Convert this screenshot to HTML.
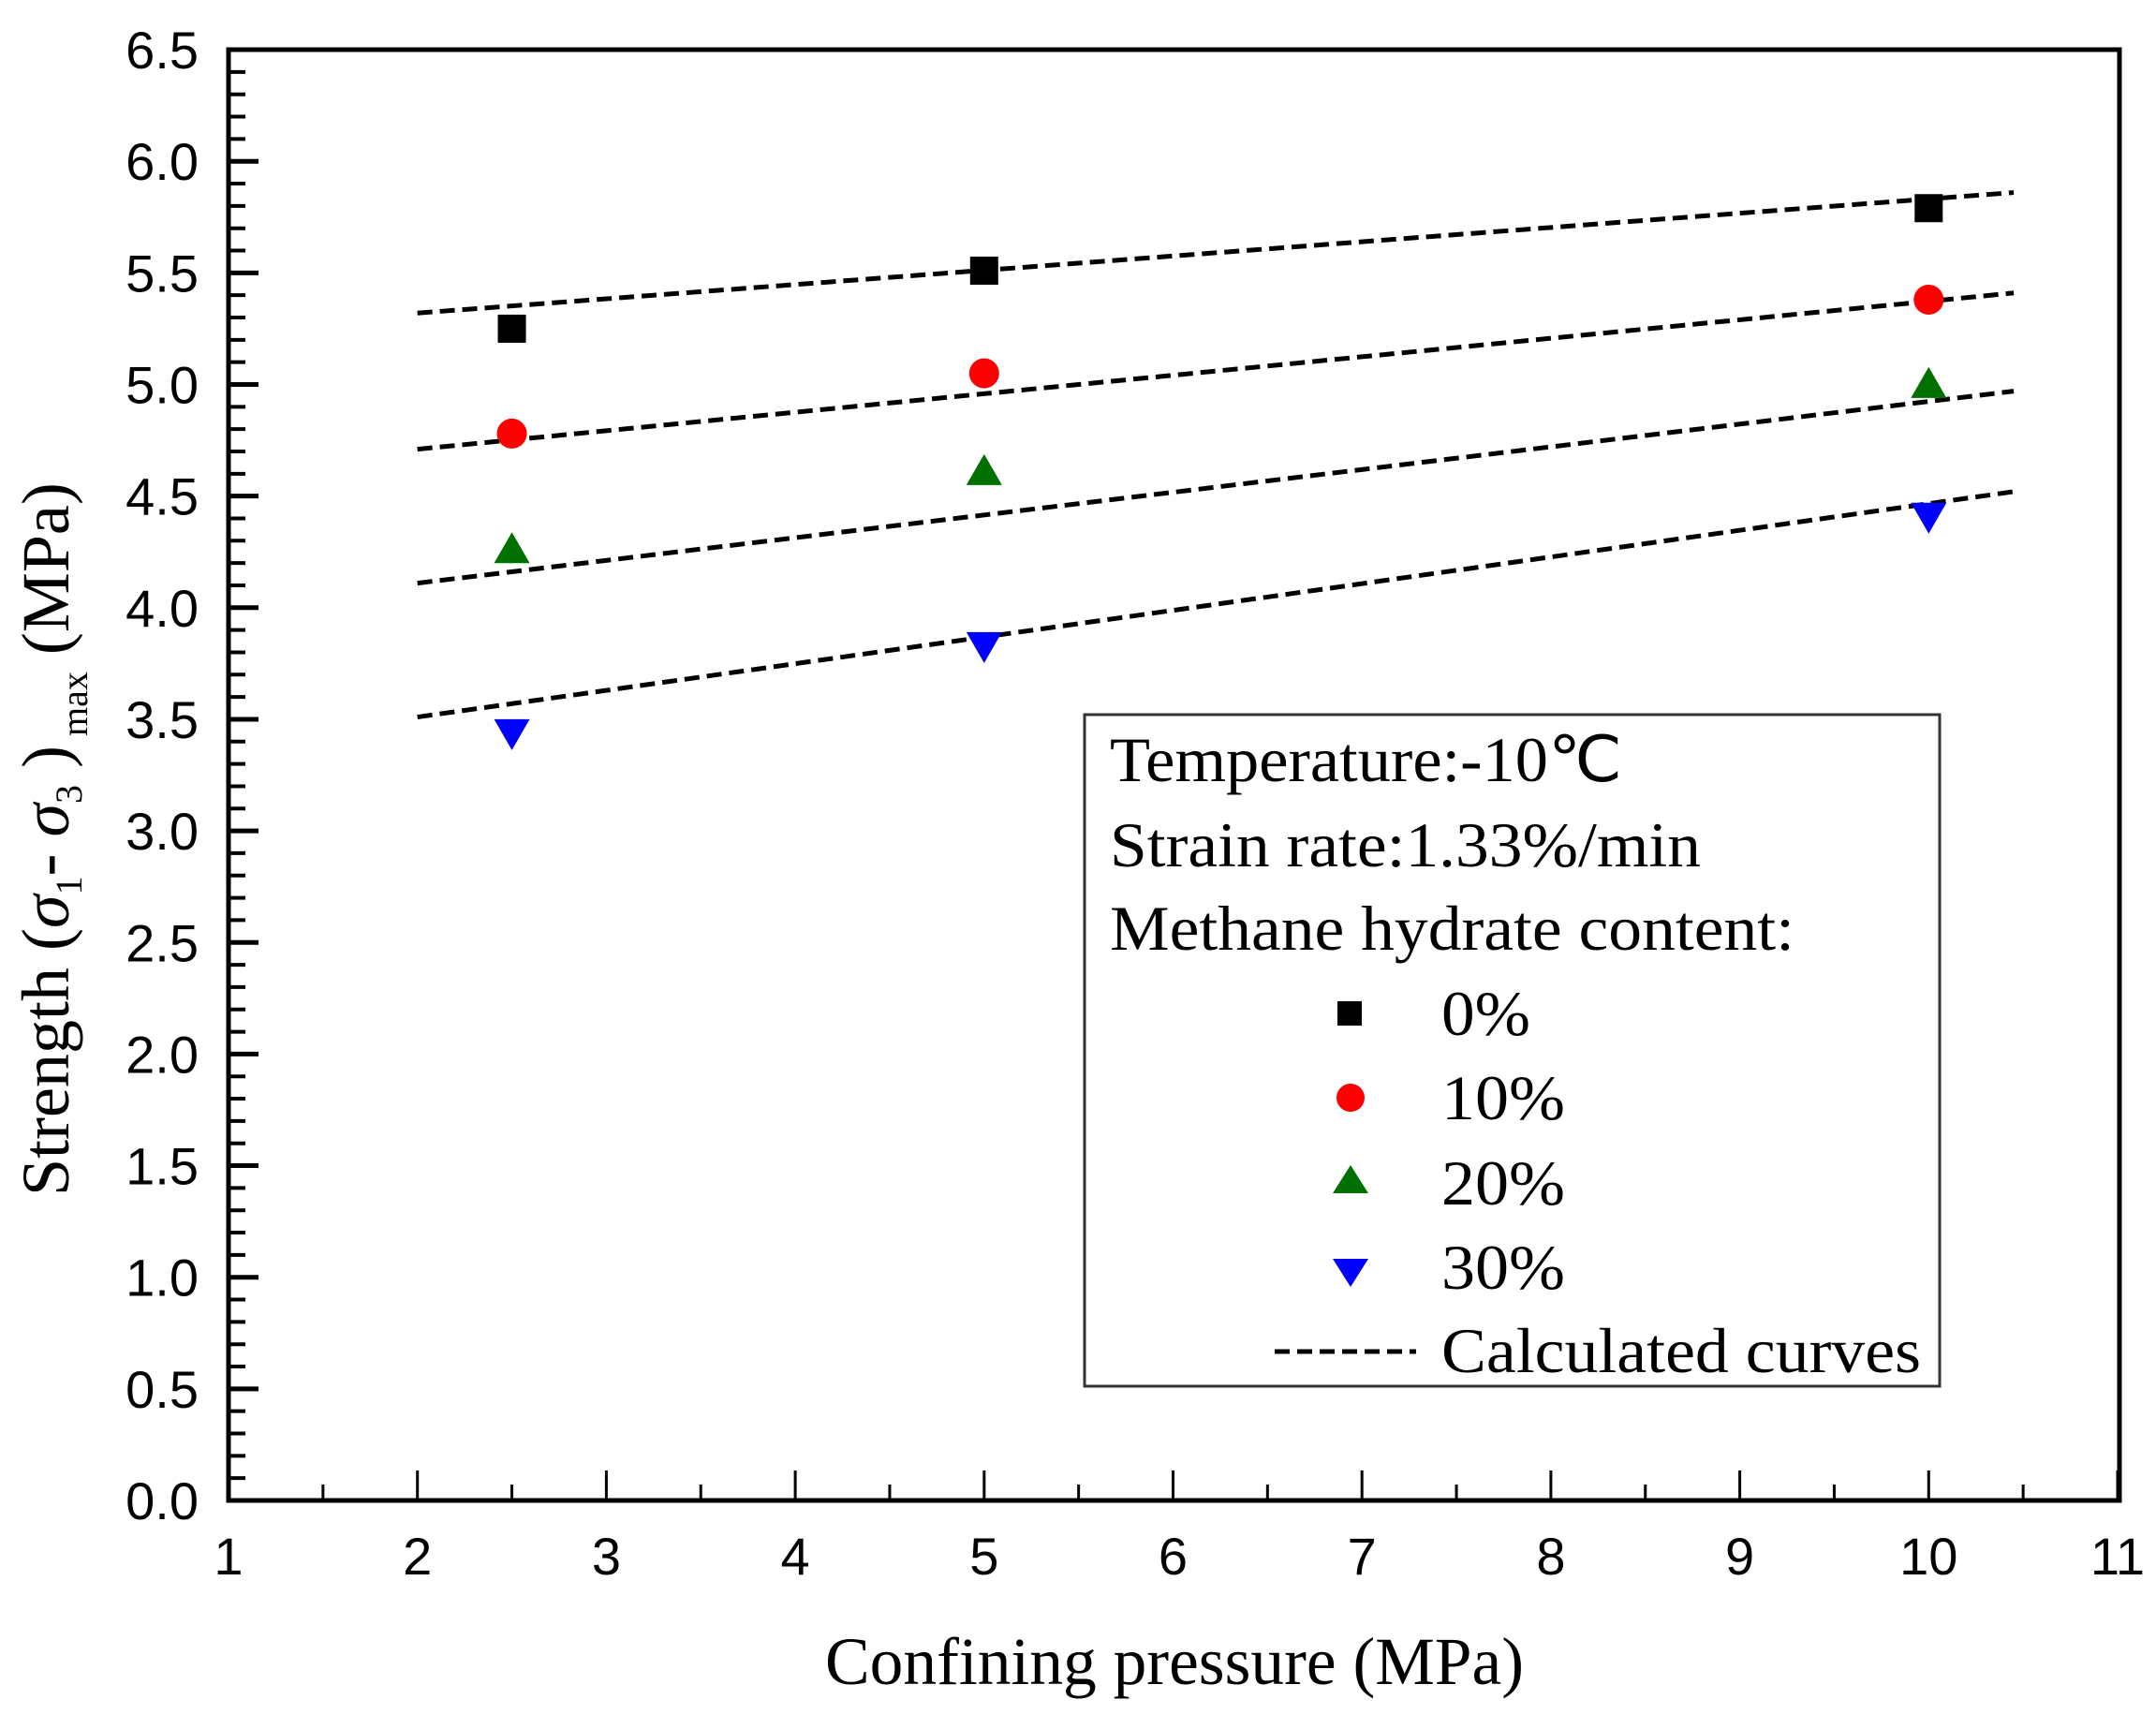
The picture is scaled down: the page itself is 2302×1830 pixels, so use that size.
<!DOCTYPE html>
<html><head><meta charset="utf-8"><style>html,body{margin:0;padding:0;background:#fff}svg{display:block}</style></head>
<body>
<svg id="chart" width="2302" height="1830" viewBox="0 0 2302 1830" xmlns="http://www.w3.org/2000/svg">
<g id="ticks"></g>
<g id="lines"></g>
<g id="marks"></g>
<rect x="244" y="53" width="2019" height="1549" fill="none" stroke="#000" stroke-width="5"/>
<text x="1254" y="1798" text-anchor="middle" font-family="Liberation Serif, serif" font-size="72" textLength="746" lengthAdjust="spacingAndGlyphs">Confining pressure (MPa)</text>
<text transform="translate(73,1277) rotate(-90)" font-family="Liberation Serif, serif" font-size="72">Strength (<tspan font-style="italic">σ</tspan><tspan font-size="40" dy="14">1</tspan><tspan dy="-14">- </tspan><tspan font-style="italic">σ</tspan><tspan font-size="40" dy="14">3</tspan><tspan dy="-14"> )</tspan><tspan font-size="40" dy="20"> max</tspan><tspan dy="-20"> (MPa)</tspan></text>
<g>
<rect x="1158" y="763" width="913" height="717" fill="#fff" stroke="#333" stroke-width="3"/>
<g font-family="Liberation Serif, serif" font-size="68">
<text x="1185" y="834" textLength="547" lengthAdjust="spacingAndGlyphs">Temperature:-10℃</text>
<text x="1185" y="925" textLength="631" lengthAdjust="spacingAndGlyphs">Strain rate:1.33%/min</text>
<text x="1185" y="1014" textLength="731" lengthAdjust="spacingAndGlyphs">Methane hydrate content:</text>
<rect x="1428" y="1069" width="26" height="26" fill="#000"/>
<text x="1539" y="1105" textLength="95" lengthAdjust="spacingAndGlyphs">0%</text>
<circle cx="1442" cy="1172" r="15" fill="#f00"/>
<text x="1539" y="1195" textLength="132" lengthAdjust="spacingAndGlyphs">10%</text>
<polygon points="1442,1244 1461,1274 1423,1274" fill="#007000"/>
<text x="1539" y="1286" textLength="132" lengthAdjust="spacingAndGlyphs">20%</text>
<polygon points="1423,1344 1461,1344 1442,1374" fill="#00f"/>
<text x="1539" y="1376" textLength="132" lengthAdjust="spacingAndGlyphs">30%</text>
<line x1="1361" y1="1443" x2="1512" y2="1443" stroke="#000" stroke-width="5" stroke-dasharray="16,8"/>
<text x="1539" y="1465" textLength="512" lengthAdjust="spacingAndGlyphs">Calculated curves</text>
</g></g>
</svg>
<script>
const xTicks=[1,2,3,4,5,6,7,8,9,10,11];
const yTicks=["0.0","0.5","1.0","1.5","2.0","2.5","3.0","3.5","4.0","4.5","5.0","5.5","6.0","6.5"];
const pressures=[2.5,5,10];
const s0=[5.25,5.51,5.79];
const s10=[4.78,5.05,5.38];
const s20=[4.25,4.60,4.99];
const s30=[3.45,3.84,4.42];
const curveX=[2,10.45];
const c0=[5.32,5.86];
const c10=[4.71,5.41];
const c20=[4.11,4.97];
const c30=[3.51,4.52];
const NS='http://www.w3.org/2000/svg';
const X=v=>244+(v-1)*201.7;
const Y=v=>1602-v*238.3;
function mk(tag,attrs,parent){const e=document.createElementNS(NS,tag);for(const k in attrs)e.setAttribute(k,attrs[k]);parent.appendChild(e);return e;}
const tg=document.getElementById('ticks');
xTicks.forEach(v=>{
 let l=mk('line',{x1:X(v),x2:X(v),y1:1602,y2:1570,stroke:'#000','stroke-width':3},tg);
 
 
 if(v<11){let m=mk('line',{x1:X(v+0.5),x2:X(v+0.5),y1:1602,y2:1585,stroke:'#000','stroke-width':3},tg);
 
 }
 let t=mk('text',{x:X(v),y:1681,'text-anchor':'middle','font-family':'Liberation Sans, sans-serif','font-size':56},tg);
 t.textContent=v;
 
 
});
yTicks.forEach((s,i)=>{
 const v=parseFloat(s);
 let l=mk('line',{x1:244,x2:276,y1:Y(v),y2:Y(v),stroke:'#000','stroke-width':5},tg);
 
 
 if(i<yTicks.length-1){for(let k=1;k<5;k++){let m=mk('line',{x1:244,x2:262,y1:Y(v+k*0.1),y2:Y(v+k*0.1),stroke:'#000','stroke-width':4},tg);
 
 }}
 let t=mk('text',{x:212,y:Y(v)+20,'text-anchor':'end','font-family':'Liberation Sans, sans-serif','font-size':56},tg);
 t.textContent=s;
 
 
});
const lg=document.getElementById('lines');
[c0,c10,c20,c30].forEach((c,i)=>{
 let l=mk('line',{x1:X(curveX[0]),y1:Y(c[0]),x2:X(curveX[1]),y2:Y(c[1]),stroke:'#000','stroke-width':5,'stroke-dasharray':'16,8'},lg);
 
 
});
const mg=document.getElementById('marks');
pressures.forEach((p,i)=>{
 const x=X(p);
 let a=mk('rect',{x:x-15,y:Y(s0[i])-15,width:30,height:30,fill:'#000'},mg);
 
 
 let b=mk('circle',{cx:x,cy:Y(s10[i]),r:16,fill:'#f00'},mg);
 
 
 let y2=Y(s20[i]);
 let c=mk('polygon',{points:`${x},${y2-21} ${x+19},${y2+12} ${x-19},${y2+12}`,fill:'#007000'},mg);
 
 
 let y3=Y(s30[i]);
 let d=mk('polygon',{points:`${x-19},${y3-12} ${x+19},${y3-12} ${x},${y3+21}`,fill:'#00f'},mg);
 
 
});
</script>
</body></html>
